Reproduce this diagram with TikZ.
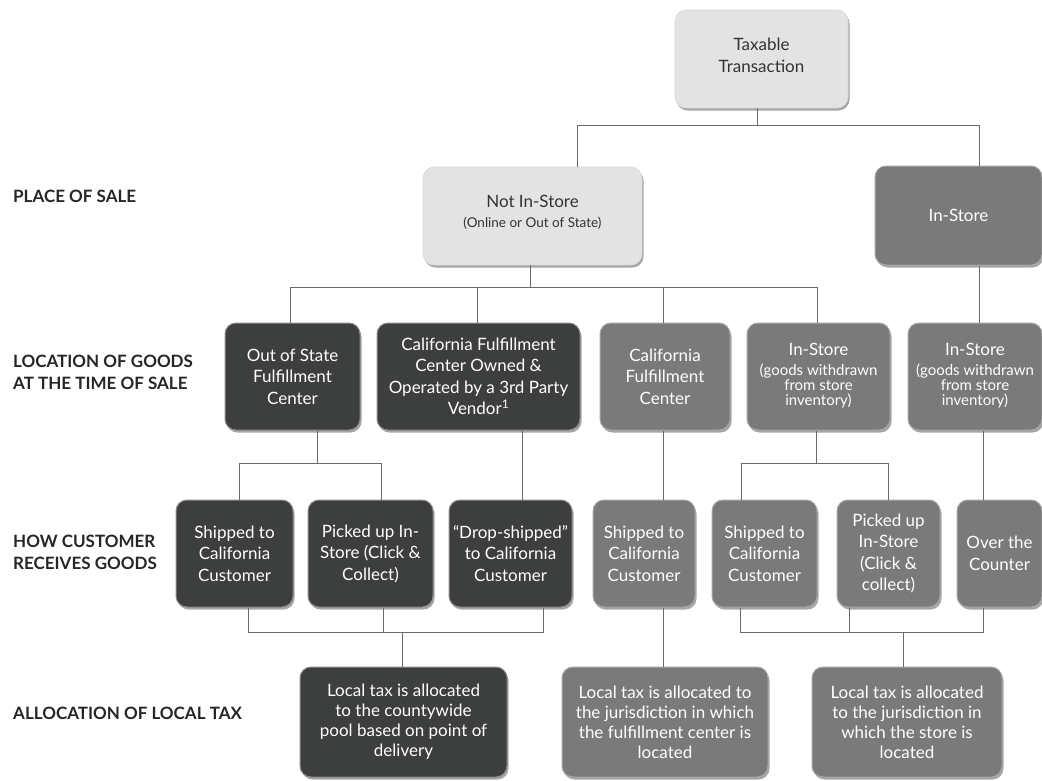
\documentclass[tikz,border=0pt]{standalone}
\usepackage{fontspec}
\setmainfont{Lato}
\usetikzlibrary{shadows}
\definecolor{lightbox}{HTML}{E3E3E3}
\definecolor{midbox}{HTML}{7A7A7A}
\definecolor{darkbox}{HTML}{3C3F3E}
\definecolor{linegray}{HTML}{6A6A6A}
\definecolor{txtdark}{HTML}{333333}
\newcommand{\goodsnote}{{\fontsize{15}{13}\selectfont\begin{tabular}[t]{@{}c@{}}(goods withdrawn\\from store\\inventory)\end{tabular}}}
\begin{document}
\begin{tikzpicture}[x=1pt,y=-1pt,
 sz/.style 2 args={minimum width=#1pt, minimum height=#2pt},
 box/.style={rounded corners=11pt, align=center, inner sep=2pt, font=\fontsize{17}{21.5}\selectfont,
   drop shadow={shadow xshift=1.5pt, shadow yshift=-2.5pt, opacity=0.35, fill=black}},
 lightb/.style={box, fill=lightbox, text=txtdark, draw=black!15, line width=0.6pt},
 midb/.style={box, fill=midbox, text=white, draw=black!35, line width=1pt},
 darkb/.style={box, fill=darkbox, text=white, draw=black!45, line width=1pt},
 conn/.style={draw=linegray, line width=0.7pt},
 rowlabel/.style={anchor=west, align=left, inner sep=0pt, font=\bfseries\fontsize{17}{22}\selectfont, text=black!85}]

\useasboundingbox[fill=white] (0,0) rectangle (1042,780);

% row labels
\node[rowlabel] (lab1) at (13,196) {PLACE OF SALE};
\node[rowlabel] (lab2) at (13,372) {LOCATION OF GOODS\\AT THE TIME OF SALE};
\node[rowlabel] (lab3) at (13,552.5) {HOW CUSTOMER\\RECEIVES GOODS};
\node[rowlabel] (lab4) at (13,713) {ALLOCATION OF LOCAL TAX};

% level 0 and 1
\node[lightb, sz={173}{98}] (tax) at (761.5,59) {Taxable\\Transaction\\[-14pt]\mbox{}};
\node[lightb, sz={219}{98}] (nis) at (532.5,216) {Not In-Store\\[-2pt]{\fontsize{13.5}{15}\selectfont (Online or Out of State)}\\[-12pt]\mbox{}};
\node[midb, sz={167}{99}] (ins) at (958.5,215.5) {In-Store};

% level 2
\node[darkb, sz={135}{107}] (r2a) at (292.5,376.5) {Out of State\\Fulfillment\\Center};
\node[darkb, sz={203}{107}] (r2b) at (478.5,376.5) {California Fulfillment\\Center Owned \&\\Operated by a 3rd Party\\Vendor\textsuperscript{1}};
\node[midb, sz={130}{107}] (r2c) at (665,376.5) {California\\Fulfillment\\Center};
\node[midb, sz={143}{107}] (r2d) at (818.5,376.5) {In-Store\\[-1.5pt]\goodsnote};
\node[midb, sz={134}{107}] (r2e) at (975,376.5) {In-Store\\[-1.5pt]\goodsnote};

% level 3
\node[darkb, sz={117}{107}] (a1) at (234.5,553.5) {Shipped to\\California\\Customer};
\node[darkb, sz={125}{107}] (a2) at (370.5,553.5) {Picked up In-\\Store (Click \&\\Collect)};
\node[darkb, sz={123}{107}] (a3) at (510.5,553.5) {``Drop-shipped''\\to California\\Customer};
\node[midb, sz={102}{107}] (b1) at (644,553.5) {Shipped to\\California\\Customer};
\node[midb, sz={105}{107}] (c1) at (764.5,553.5) {Shipped to\\California\\Customer};
\node[midb, sz={103}{107}] (c2) at (888.5,553.5) {Picked up\\In-Store\\(Click \&\\collect)};
\node[midb, sz={85}{107}] (d1) at (999.5,553.5) {Over the\\Counter};

% level 4
\node[darkb, sz={207}{110}, font=\fontsize{17}{20}\selectfont] (l1) at (403.5,722) {Local tax is allocated\\to the countywide\\pool based on point of\\delivery};
\node[midb, sz={206}{110}, font=\fontsize{17}{20}\selectfont] (l2) at (665,722) {Local tax is allocated to\\the jurisdiction in which\\the fulfillment center is\\located};
\node[midb, sz={190}{110}, font=\fontsize{17}{20}\selectfont] (l3) at (907,722) {Local tax is allocated\\to the jurisdiction in\\which the store is\\located};

% connectors level 0 -> 1
\draw[conn] (757,0 |- tax.south) -- (757,125);
\draw[conn] (577,0 |- nis.north) -- (577,125) -- (979,125) -- (979,0 |- ins.north);

% level 1 -> 2
\draw[conn] (530,0 |- nis.south) -- (530,287);
\draw[conn] (290,0 |- r2a.north) -- (290,287) -- (817,287) -- (817,0 |- r2d.north);
\draw[conn] (477,287) -- (477,0 |- r2b.north);
\draw[conn] (663,287) -- (663,0 |- r2c.north);
\draw[conn] (979,0 |- ins.south) -- (979,0 |- r2e.north);

% level 2 -> 3
\draw[conn] (317,0 |- r2a.south) -- (317,463);
\draw[conn] (239,0 |- a1.north) -- (239,463) -- (381,463) -- (381,0 |- a2.north);
\draw[conn] (522,0 |- r2b.south) -- (522,0 |- a3.north);
\draw[conn] (663,0 |- r2c.south) -- (663,0 |- b1.north);
\draw[conn] (816,0 |- r2d.south) -- (816,463);
\draw[conn] (741,0 |- c1.north) -- (741,463) -- (888,463) -- (888,0 |- c2.north);
\draw[conn] (983,0 |- r2e.south) -- (983,0 |- d1.north);

% level 3 -> 4
\draw[conn] (248,0 |- a1.south) -- (248,632) -- (543,632) -- (543,0 |- a3.south);
\draw[conn] (383,0 |- a2.south) -- (383,632);
\draw[conn] (402,632) -- (402,0 |- l1.north);
\draw[conn] (663,0 |- b1.south) -- (663,0 |- l2.north);
\draw[conn] (740,0 |- c1.south) -- (740,632) -- (983,632) -- (983,0 |- d1.south);
\draw[conn] (849,0 |- c2.south) -- (849,632);
\draw[conn] (903,632) -- (903,0 |- l3.north);
\end{tikzpicture}
\end{document}
